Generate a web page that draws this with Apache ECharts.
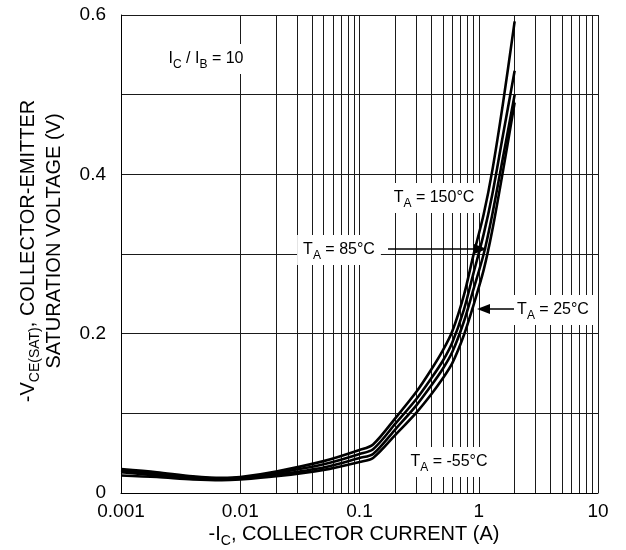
<!DOCTYPE html>
<html>
<head>
<meta charset="utf-8">
<script src="https://cdn.jsdelivr.net/npm/echarts@6/dist/echarts.min.js"></script>
<style>html,body{margin:0;padding:0;background:#fff;}#c{width:626px;height:550px;}</style>
</head>
<body>
<div id="c"></div>
<script>
// ---- data ----
const xTickValues = [0.001, 0.01, 0.1, 1, 10];
const xTickLabels = ['0.001', '0.01', '0.1', '1', '10'];
const yTickValues = [0, 0.2, 0.4, 0.6];
const yTickLabels = ['0', '0.2', '0.4', '0.6'];
const minorGridX = [0.002,0.003,0.004,0.005,0.006,0.007,0.008,0.009,
  0.02,0.03,0.04,0.05,0.06,0.07,0.08,0.09,
  0.2,0.3,0.4,0.5,0.6,0.7,0.8,0.9,
  2,3,4,5,6,7,8,9];
const current = [0.001,0.002,0.004,0.007,0.01,0.02,0.05,0.1,0.13,0.2,0.3,0.4,0.5,0.6,0.75,0.9,1.1,1.3,1.6,2];
const vce150 = [0.030,0.026,0.021,0.019,0.020,0.027,0.040,0.054,0.061,0.094,0.127,0.155,0.179,0.203,0.248,0.298,0.350,0.405,0.490,0.592];
const vceM55 = [0.028,0.024,0.020,0.018,0.019,0.025,0.036,0.049,0.055,0.087,0.118,0.144,0.166,0.189,0.230,0.275,0.325,0.375,0.450,0.530];
const vce85  = [0.026,0.022,0.019,0.017,0.018,0.023,0.032,0.044,0.049,0.080,0.110,0.135,0.156,0.177,0.215,0.255,0.300,0.350,0.422,0.500];
const vce25  = [0.022,0.020,0.017,0.016,0.017,0.021,0.029,0.039,0.044,0.073,0.101,0.124,0.144,0.163,0.198,0.235,0.280,0.330,0.405,0.490];

function pairs(ys){ return current.map((x,i)=>[x, ys[i]]); }
const FONT = '"Liberation Sans", Arial, Helvetica, sans-serif';
const GRID = '#1a1a1a';

const chart = echarts.init(document.getElementById('c'), null, {renderer:'canvas'});
function curve(name, ys, withGrid){
  const s = {
    name, type:'line', data: pairs(ys), showSymbol:false, smooth:0.3,
    lineStyle:{color:'#000', width:2.6}, z:5, silent:true, animation:false
  };
  if (withGrid){
    s.markLine = {
      silent:true, symbol:['none','none'], label:{show:false},
      lineStyle:{color:GRID, width:1, type:'solid'}, animation:false, z:1,
      data: minorGridX.map(v=>({xAxis:v}))
    };
  }
  return s;
}

function annot(x, y, txt, size){
  return {
    type:'text', x, y, z:100,
    style:{
      text:txt, fontSize:size, fontFamily:FONT, fill:'#000',
      align:'center', verticalAlign:'middle',
      backgroundColor:'#fff', padding:[3,6,3,6], lineHeight:size+8,
      rich:{ sub:{fontSize:Math.round(size*0.72), fontFamily:FONT, verticalAlign:'bottom', lineHeight:size+8} , n:{fontSize:size, fontFamily:FONT, lineHeight:size+8}}
    }
  };
}

const option = {
  animation:false,
  backgroundColor:'#fff',
  grid:{left:121, right:28, top:15, bottom:57, containLabel:false},
  xAxis:{
    type:'log', logBase:10, min:0.001, max:10,
    axisLine:{show:true, lineStyle:{color:'#000', width:1}},
    axisTick:{show:false},
    splitLine:{show:true, lineStyle:{color:GRID, width:1}},
    axisLabel:{
      fontSize:19, fontFamily:FONT, color:'#000', margin:9,
      formatter:(v)=>{ const i = xTickValues.findIndex(t=>Math.abs(Math.log10(t)-Math.log10(v))<1e-6); return i>=0?xTickLabels[i]:''; }
    }
  },
  yAxis:{
    type:'value', min:0, max:0.6, interval:0.1,
    axisLine:{show:true, lineStyle:{color:'#000', width:1}},
    axisTick:{show:false},
    splitLine:{show:true, lineStyle:{color:GRID, width:1}},
    axisLabel:{
      fontSize:19, fontFamily:FONT, color:'#000', margin:15,
      formatter:(v)=>{ const i = yTickValues.findIndex(t=>Math.abs(t-v)<1e-6); return i>=0?yTickLabels[i]:''; }
    }
  },
  series:[
    curve('TA = 150°C', vce150, true),
    curve('TA = -55°C', vceM55, false),
    curve('TA = 85°C', vce85, false),
    curve('TA = 25°C', vce25, false)
  ],
  graphic:[
    {type:'text', x:354, y:534, z:100, style:{text:'{n|-I}{sub|C}{n|, COLLECTOR CURRENT (A)}', align:'center', verticalAlign:'middle', fill:'#000',
      rich:{n:{fontSize:20, fontFamily:FONT, lineHeight:28}, sub:{fontSize:14, fontFamily:FONT, verticalAlign:'bottom', lineHeight:28}}}},
    {type:'text', x:28, y:251, rotation:Math.PI/2, z:100, style:{text:'{n|-V}{sub|CE(SAT)}{n|, COLLECTOR-EMITTER}', align:'center', verticalAlign:'middle', fill:'#000',
      rich:{n:{fontSize:20, fontFamily:FONT, lineHeight:28}, sub:{fontSize:14, fontFamily:FONT, verticalAlign:'bottom', lineHeight:28}}}},
    {type:'text', x:54, y:241, rotation:Math.PI/2, z:100, style:{text:'SATURATION VOLTAGE (V)', align:'center', verticalAlign:'middle', fill:'#000', fontSize:20, fontFamily:FONT}},
    annot(206, 59, '{n|I}{sub|C}{n| / I}{sub|B}{n| = 10}', 16),
    annot(434, 198, '{n|T}{sub|A}{n| = 150°C}', 16),
    annot(339, 250, '{n|T}{sub|A}{n| = 85°C}', 16),
    annot(553, 310, '{n|T}{sub|A}{n| = 25°C}', 16),
    annot(449, 462, '{n|T}{sub|A}{n| = -55°C}', 16),
    {type:'line', z:100, shape:{x1:388, y1:249, x2:476, y2:249}, style:{stroke:'#000', lineWidth:1.5}},
    {type:'polygon', z:100, shape:{points:[[487,249],[474,244],[474,254]]}, style:{fill:'#000'}},
    {type:'line', z:100, shape:{x1:514, y1:309, x2:488, y2:309}, style:{stroke:'#000', lineWidth:1.5}},
    {type:'polygon', z:100, shape:{points:[[477,309],[490,304],[490,314]]}, style:{fill:'#000'}}
  ]
};
chart.setOption(option);
</script>
</body>
</html>
